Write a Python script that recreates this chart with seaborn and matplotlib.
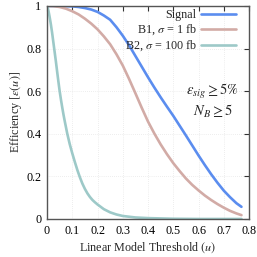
import numpy as np
import pandas as pd
import matplotlib
matplotlib.use("Agg")
import matplotlib.pyplot as plt
import seaborn as sns

# --- values ---
u_signal = [0.0, 0.025, 0.05, 0.075, 0.1, 0.125, 0.15, 0.175, 0.2, 0.225, 0.25, 0.275, 0.3, 0.325,
            0.35, 0.375, 0.4, 0.425, 0.45, 0.475, 0.5, 0.525, 0.55, 0.575, 0.6, 0.625, 0.65, 0.675,
            0.7, 0.725, 0.75, 0.77]
eff_signal = [1.0, 1.0, 1.0, 0.999, 0.998, 0.995, 0.99, 0.983, 0.972, 0.955, 0.935, 0.90, 0.86, 0.815,
              0.765, 0.715, 0.665, 0.617, 0.571, 0.527, 0.484, 0.438, 0.392, 0.345, 0.298, 0.253, 0.21,
              0.17, 0.133, 0.102, 0.074, 0.057]

u_b1 = [0.0, 0.025, 0.05, 0.075, 0.1, 0.125, 0.15, 0.175, 0.2, 0.225, 0.25, 0.275, 0.3, 0.325,
        0.35, 0.375, 0.4, 0.425, 0.45, 0.475, 0.5, 0.525, 0.55, 0.575, 0.6, 0.625, 0.65, 0.675,
        0.7, 0.725, 0.75, 0.77]
eff_b1 = [1.0, 0.999, 0.995, 0.987, 0.975, 0.96, 0.94, 0.917, 0.89, 0.857, 0.82, 0.773, 0.72, 0.657,
          0.59, 0.522, 0.457, 0.401, 0.35, 0.304, 0.262, 0.225, 0.19, 0.16, 0.134, 0.11, 0.089,
          0.07, 0.053, 0.038, 0.026, 0.018]

u_b2 = [0.0, 0.003, 0.006, 0.01, 0.015, 0.02, 0.025, 0.03, 0.035, 0.04, 0.045, 0.05, 0.055, 0.06,
        0.065, 0.07, 0.08, 0.09, 0.1, 0.11, 0.12, 0.13, 0.14, 0.15, 0.16, 0.17, 0.18, 0.19, 0.2,
        0.225, 0.25, 0.275, 0.3, 0.35, 0.4, 0.5, 0.6, 0.77]
eff_b2 = [1.0, 0.99, 0.975, 0.95, 0.915, 0.875, 0.83, 0.785, 0.74, 0.692, 0.645, 0.60, 0.561, 0.525,
          0.491, 0.46, 0.401, 0.351, 0.308, 0.268, 0.23, 0.196, 0.166, 0.141, 0.12, 0.103, 0.089,
          0.078, 0.068, 0.046, 0.031, 0.021, 0.014, 0.007, 0.004, 0.001, 0.0, 0.0]

labels = ["Signal", r"B1, $\sigma$ = 1 fb", r"B2, $\sigma$ = 100 fb"]
colors = ["#5b8def", "#d2aba6", "#9dc9c8"]

x_ticks = [0, 0.1, 0.2, 0.3, 0.4, 0.5, 0.6, 0.7, 0.8]
y_ticks = [0, 0.2, 0.4, 0.6, 0.8, 1.0]
y_ticklabels = ["0", "0.2", "0.4", "0.6", "0.8", "1"]

df = pd.concat([
    pd.DataFrame({"u": u_signal, "eff": eff_signal, "series": labels[0]}),
    pd.DataFrame({"u": u_b1, "eff": eff_b1, "series": labels[1]}),
    pd.DataFrame({"u": u_b2, "eff": eff_b2, "series": labels[2]}),
])

sns.set_theme(style="white")
plt.rcParams["font.family"] = ["Liberation Serif", "DejaVu Serif"]
plt.rcParams["mathtext.fontset"] = "stix"

fig = plt.figure(figsize=(2.57, 2.57), dpi=100)
ax = fig.add_axes([0.183, 0.148, 0.786, 0.829])

sns.lineplot(data=df, x="u", y="eff", hue="series", palette=colors, lw=1.9,
             sort=False, estimator=None, ax=ax)

ax.set_xlim(0, 0.8)
ax.set_ylim(0, 1)
ax.set_xticks(x_ticks)
ax.set_xticklabels([f"{t:g}" for t in x_ticks])
ax.set_yticks(y_ticks)
ax.set_yticklabels(y_ticklabels)
ax.tick_params(direction="in", length=3.5, width=0.8, top=True, right=True,
               labelsize=8.7, colors="#333333", pad=4)
for t in ax.get_xticklabels() + ax.get_yticklabels():
    t.set_color("black")
ax.grid(True, color="#dddddd", ls=(0, (1, 2)), lw=0.5)
for s in ax.spines.values():
    s.set_color("#555555")
    s.set_linewidth(1.0)

ax.set_xlabel(r"Linear Model Threshold $(u)$", fontsize=8.7, labelpad=3)
ax.set_ylabel(r"Efficiency $[\varepsilon(u)]$", fontsize=8.7, labelpad=2)

leg = ax.legend(loc="upper right", bbox_to_anchor=(0.935, 0.985), frameon=False,
                markerfirst=False, fontsize=8.7, handlelength=2.9, handletextpad=0.35,
                labelspacing=0.12, borderpad=0, borderaxespad=0)
for line in leg.get_lines():
    line.set_linewidth(1.9)

ax.text(0.82, 0.60, r"$\varepsilon_{sig} \geq 5\%$", transform=ax.transAxes,
        ha="center", va="center", fontsize=10.5)
ax.text(0.82, 0.505, r"$N_B \geq 5$", transform=ax.transAxes,
        ha="center", va="center", fontsize=10.5)

fig.savefig("out.png", dpi=100)
